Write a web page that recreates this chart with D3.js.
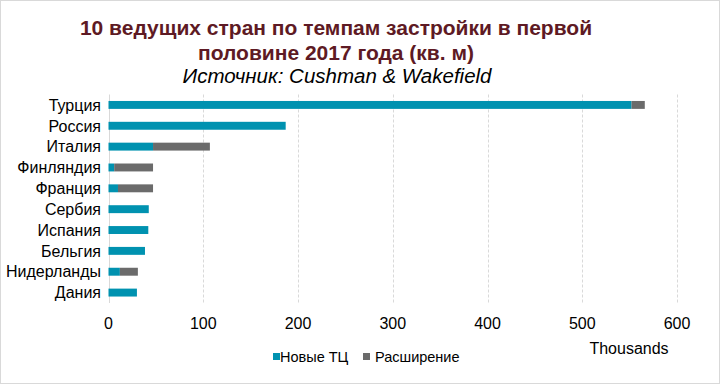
<!DOCTYPE html>
<html>
<head>
<meta charset="utf-8">
<script src="https://cdn.jsdelivr.net/npm/d3@7"></script>
<style>
  html, body { margin: 0; padding: 0; background: #fff; }
  svg { display: block; font-family: "Liberation Sans", Arial, sans-serif; }
</style>
</head>
<body>
<svg id="chart" width="721" height="386"></svg>
<script>
const countries = ["Турция", "Россия", "Италия", "Финляндия", "Франция", "Сербия", "Испания", "Бельгия", "Нидерланды", "Дания"];
const newCentres = [552, 187, 47, 6, 10, 42.5, 42, 38.5, 12, 30];
const extensions = [14, 0, 60, 41, 37, 0, 0, 0, 19, 0];
const xTicks = [0, 100, 200, 300, 400, 500, 600];
const seriesNames = ["Новые ТЦ", "Расширение"];
const seriesColors = ["#0092b0", "#6b6b6b"];

const svg = d3.select("#chart");
const width = 721, height = 386;

// outer frame
svg.append("rect")
  .attr("x", 0.5).attr("y", 0.5)
  .attr("width", width - 2).attr("height", height - 3)
  .attr("fill", "#fff")
  .attr("stroke", "#d9d9d9");

// titles
const titleG = svg.append("g").attr("text-anchor", "middle");
titleG.append("text")
  .attr("x", 336).attr("y", 35)
  .attr("fill", "#5e1a24").attr("font-weight", "bold").attr("font-size", 21)
  .text("10 ведущих стран по темпам застройки в первой");
titleG.append("text")
  .attr("x", 336).attr("y", 60)
  .attr("fill", "#5e1a24").attr("font-weight", "bold").attr("font-size", 21)
  .text("половине 2017 года (кв. м)");
titleG.append("text")
  .attr("x", 337).attr("y", 83)
  .attr("fill", "#000").attr("font-style", "italic").attr("font-size", 20.5)
  .text("Источник: Cushman & Wakefield");

const margin = { top: 94.5, left: 108.5, bottom: 303 };
const x = d3.scaleLinear().domain([0, 600]).range([108.5, 677]);
const y = d3.scaleBand().domain(countries).range([margin.top, margin.bottom]).paddingInner(0.62).paddingOuter(0.31);

// grid
const gridG = svg.append("g");
gridG.selectAll("line").data(xTicks.slice(1)).join("line")
  .attr("x1", d => Math.round(x(d)) + 0.5).attr("x2", d => Math.round(x(d)) + 0.5)
  .attr("y1", margin.top).attr("y2", margin.bottom)
  .attr("stroke", "#d9d9d9").attr("stroke-dasharray", "3,2");

// axis line at zero
svg.append("line")
  .attr("x1", Math.round(x(0)) + 0.5).attr("x2", Math.round(x(0)) + 0.5)
  .attr("y1", margin.top).attr("y2", margin.bottom)
  .attr("stroke", "#d9d9d9");

// bars
const rows = countries.map((c, i) => ({ c, a: newCentres[i], b: extensions[i] }));
const barsG = svg.append("g");
barsG.selectAll("rect.new").data(rows).join("rect")
  .attr("class", "new")
  .attr("x", x(0))
  .attr("y", d => y(d.c))
  .attr("width", d => x(d.a) - x(0))
  .attr("height", y.bandwidth())
  .attr("fill", seriesColors[0]);
barsG.selectAll("rect.ext").data(rows.filter(d => d.b > 0)).join("rect")
  .attr("class", "ext")
  .attr("x", d => x(d.a))
  .attr("y", d => y(d.c))
  .attr("width", d => x(d.a + d.b) - x(d.a))
  .attr("height", y.bandwidth())
  .attr("fill", seriesColors[1]);

// category labels
svg.append("g").selectAll("text").data(countries).join("text")
  .attr("x", 101)
  .attr("y", d => y(d) + y.bandwidth() / 2)
  .attr("dy", "0.36em")
  .attr("text-anchor", "end")
  .attr("font-size", 16)
  .attr("fill", "#000")
  .text(d => d);

// x tick labels
svg.append("g").selectAll("text").data(xTicks).join("text")
  .attr("x", d => x(d))
  .attr("y", 329)
  .attr("text-anchor", "middle")
  .attr("font-size", 16)
  .attr("fill", "#000")
  .text(d => d);

svg.append("text")
  .attr("x", 629).attr("y", 354)
  .attr("text-anchor", "middle")
  .attr("font-size", 16)
  .attr("fill", "#000")
  .text("Thousands");

// legend
const legend = svg.append("g");
const legendX = [273, 363];
seriesNames.forEach((name, i) => {
  legend.append("rect")
    .attr("x", legendX[i]).attr("y", 353)
    .attr("width", 7).attr("height", 7)
    .attr("fill", seriesColors[i]);
  legend.append("text")
    .attr("x", legendX[i] + (i === 0 ? 7 : 12)).attr("y", 362)
    .attr("font-size", 14.5)
    .attr("fill", "#000")
    .text(name);
});
</script>
</body>
</html>
